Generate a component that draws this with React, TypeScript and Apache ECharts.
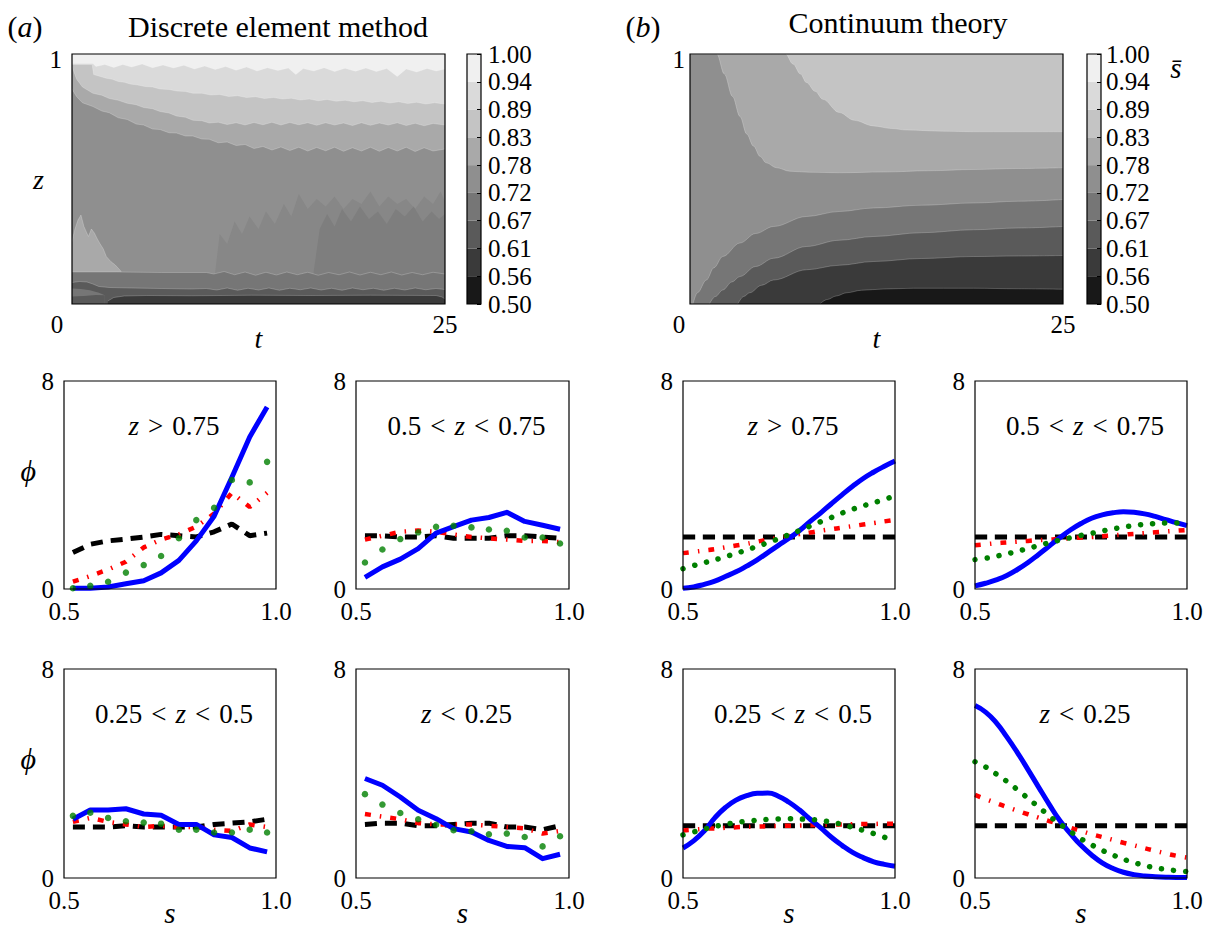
import React, { useEffect, useRef } from "react";
import * as echarts from "echarts";

const SERIF = '"Liberation Serif", "DejaVu Serif", serif';

// ---------- colour bar ----------
const levelLabels = ["0.50", "0.56", "0.61", "0.67", "0.72", "0.78", "0.83", "0.89", "0.94", "1.00"];
const bandColors = ["#181818", "#3a3a3a", "#5a5a5a", "#767676", "#8f8f8f", "#a9a9a9", "#c4c4c4", "#dadada", "#f0f0f0"];

// ---------- (a) DEM contour boundaries  [t, z] ----------
const demCeiling = [[0, 1], [25, 1]];
const dem094 = [[0, 0.962], [1.4, 0.962], [1.6, 0.95], [2.2, 0.958], [2.8, 0.946], [3.4, 0.958], [4.0, 0.948], [4.7, 0.96], [5.4, 0.945], [6.1, 0.956], [6.8, 0.944], [7.5, 0.955], [8.2, 0.94], [8.9, 0.952], [9.6, 0.938], [10.3, 0.95], [11.0, 0.935], [11.7, 0.948], [12.4, 0.932], [13.1, 0.945], [13.8, 0.934], [14.5, 0.944], [15.0, 0.918], [15.5, 0.942], [16.2, 0.932], [16.9, 0.945], [17.6, 0.93], [18.3, 0.943], [19.0, 0.931], [19.7, 0.944], [20.4, 0.93], [21.1, 0.942], [21.8, 0.91], [22.4, 0.94], [23.1, 0.928], [23.8, 0.942], [24.4, 0.932], [25, 0.94]];
const dem089 = [[0, 0.958], [1.35, 0.958], [1.45, 0.918], [1.9, 0.91], [2.3, 0.903], [2.7, 0.899], [3.1, 0.89], [3.5, 0.887], [3.9, 0.88], [4.4, 0.876], [4.9, 0.87], [5.4, 0.868], [5.9, 0.86], [6.5, 0.858], [7.0, 0.852], [7.6, 0.85], [8.1, 0.843], [8.7, 0.843], [9.3, 0.836], [9.9, 0.838], [10.5, 0.83], [11.1, 0.833], [11.7, 0.826], [12.3, 0.829], [12.9, 0.822], [13.5, 0.826], [14.1, 0.82], [14.7, 0.823], [15.3, 0.816], [15.9, 0.82], [16.5, 0.813], [17.1, 0.818], [17.7, 0.811], [18.3, 0.815], [18.9, 0.809], [19.5, 0.813], [20.1, 0.806], [20.7, 0.811], [21.3, 0.804], [21.9, 0.809], [22.5, 0.802], [23.1, 0.807], [23.7, 0.8], [24.3, 0.805], [25, 0.8]];
const dem083 = [[0, 0.95], [0.3, 0.9], [0.7, 0.868], [1.4, 0.843], [2.0, 0.835], [2.5, 0.822], [3.1, 0.815], [3.7, 0.803], [4.3, 0.797], [4.8, 0.786], [5.4, 0.781], [5.9, 0.77], [6.5, 0.764], [7.0, 0.752], [7.6, 0.747], [8.1, 0.735], [8.7, 0.733], [9.2, 0.724], [9.8, 0.727], [10.4, 0.718], [11.0, 0.725], [11.6, 0.716], [12.2, 0.726], [12.8, 0.717], [13.4, 0.727], [14.0, 0.716], [14.6, 0.726], [15.2, 0.717], [15.8, 0.725], [16.4, 0.715], [17.0, 0.725], [17.6, 0.716], [18.2, 0.724], [18.8, 0.714], [19.4, 0.725], [20.0, 0.715], [20.6, 0.724], [21.2, 0.716], [21.8, 0.725], [22.4, 0.714], [23.0, 0.723], [23.6, 0.713], [24.2, 0.722], [25, 0.716]];
const dem078 = [[0, 0.86], [0.3, 0.83], [0.7, 0.805], [1.4, 0.79], [2.0, 0.772], [2.5, 0.765], [3.1, 0.745], [3.7, 0.738], [4.3, 0.72], [4.8, 0.716], [5.4, 0.7], [5.9, 0.698], [6.5, 0.685], [7.0, 0.684], [7.6, 0.672], [8.1, 0.672], [8.7, 0.66], [9.2, 0.659], [9.8, 0.645], [10.4, 0.648], [11.0, 0.634], [11.6, 0.638], [12.2, 0.622], [12.8, 0.63], [13.4, 0.616], [14.0, 0.628], [14.6, 0.614], [15.2, 0.627], [15.8, 0.612], [16.4, 0.626], [17.0, 0.613], [17.6, 0.627], [18.2, 0.611], [18.8, 0.625], [19.4, 0.612], [20.0, 0.627], [20.6, 0.611], [21.2, 0.626], [21.8, 0.612], [22.4, 0.627], [23.0, 0.61], [23.6, 0.625], [24.2, 0.612], [25, 0.62]];
const demLightPatch = [[0, 0.25], [0.2, 0.3], [0.4, 0.336], [0.6, 0.356], [0.8, 0.31], [1.1, 0.27], [1.3, 0.3], [1.5, 0.284], [1.7, 0.26], [1.85, 0.244], [2.1, 0.22], [2.3, 0.19], [2.6, 0.17], [2.9, 0.156], [3.3, 0.13]];
const demMottle = [[9.6, 0.13], [9.9, 0.28], [10.4, 0.24], [10.9, 0.33], [11.4, 0.28], [11.9, 0.35], [12.5, 0.3], [13.0, 0.37], [13.6, 0.32], [14.2, 0.4], [14.7, 0.35], [15.2, 0.44], [15.8, 0.38], [16.4, 0.42], [17.0, 0.39], [17.6, 0.43], [18.2, 0.38], [18.8, 0.42], [19.4, 0.4], [20.0, 0.45], [20.6, 0.39], [21.2, 0.43], [21.8, 0.4], [22.4, 0.42], [23.0, 0.38], [23.6, 0.43], [24.2, 0.4], [24.7, 0.45], [25, 0.41]];
const demMottleCore = [[16.2, 0.13], [16.6, 0.3], [17.1, 0.36], [17.6, 0.31], [18.1, 0.38], [18.7, 0.33], [19.3, 0.39], [19.9, 0.34], [20.5, 0.37], [21.1, 0.32], [21.7, 0.38], [22.3, 0.35], [22.9, 0.39], [23.5, 0.33], [24.1, 0.37], [24.6, 0.34], [25, 0.36]];
const dem072 = [[0, 0.128], [3, 0.128], [6, 0.126], [9, 0.126], [9.5, 0.12], [10.2, 0.13], [10.9, 0.117], [11.6, 0.128], [12.3, 0.115], [13, 0.127], [13.7, 0.116], [14.4, 0.128], [15.1, 0.117], [15.8, 0.127], [16.5, 0.115], [17.2, 0.126], [17.9, 0.117], [18.6, 0.128], [19.3, 0.116], [20, 0.127], [20.7, 0.117], [21.4, 0.128], [22.1, 0.116], [22.8, 0.126], [23.5, 0.117], [24.2, 0.127], [25, 0.12]];
const dem067 = [[0, 0.086], [0.5, 0.09], [1.0, 0.088], [1.4, 0.08], [1.8, 0.07], [2.5, 0.066], [4, 0.064], [6, 0.062], [8, 0.06], [9, 0.062], [9.7, 0.056], [10.4, 0.064], [11.1, 0.055], [11.8, 0.063], [12.5, 0.056], [13.2, 0.064], [13.9, 0.055], [14.6, 0.063], [15.3, 0.057], [16, 0.064], [16.7, 0.056], [17.4, 0.063], [18.1, 0.055], [18.8, 0.064], [19.5, 0.057], [20.2, 0.063], [20.9, 0.055], [21.6, 0.063], [22.3, 0.056], [23, 0.064], [23.7, 0.057], [24.4, 0.062], [25, 0.058]];
const demWedge = [[0, 0.062], [0.6, 0.06], [1.2, 0.055], [1.8, 0.045], [2.2, 0.035]];
const demCorner = [[0, 0.03], [0.8, 0.032], [1.6, 0.036], [2.2, 0.035]];
const dem061 = [[2.4, 0.012], [2.8, 0.026], [3.5, 0.032], [5, 0.034], [8, 0.033], [12, 0.035], [16, 0.034], [20, 0.035], [24.4, 0.034], [24.8, 0.028], [25, 0.02]];

// ---------- (b) continuum contour boundaries [t, z] ----------
const ctCeiling = [[0, 1], [25, 1]];
const ct083 = [[0, 1], [6.4, 1], [6.9, 0.96], [7.4, 0.92], [7.8, 0.886], [8.4, 0.85], [8.9, 0.819], [10, 0.766], [11, 0.735], [12.3, 0.712], [13.5, 0.702], [14.5, 0.696], [17, 0.691], [19, 0.689], [25, 0.689]];
const ct078 = [[0, 1], [1.8, 1], [2.3, 0.92], [2.85, 0.83], [3.35, 0.75], [3.8, 0.68], [4.25, 0.632], [4.7, 0.59], [5.1, 0.565], [5.8, 0.545], [6.7, 0.531], [8, 0.527], [10, 0.525], [13, 0.528], [16, 0.533], [19, 0.538], [22, 0.542], [25, 0.545]];
const ct072 = [[0.2, 0], [0.5, 0.045], [1.1, 0.096], [1.6, 0.145], [2.2, 0.19], [3.35, 0.244], [4.4, 0.282], [5.6, 0.31], [7.8, 0.35], [10, 0.37], [12.3, 0.384], [15.5, 0.395], [19, 0.404], [22, 0.411], [25, 0.418]];
const ct067 = [[1.3, 0], [1.7, 0.03], [2.2, 0.056], [2.8, 0.088], [3.35, 0.11], [4.4, 0.15], [5.6, 0.183], [7.8, 0.23], [10, 0.255], [12.3, 0.27], [15.5, 0.285], [19, 0.297], [22, 0.304], [25, 0.31]];
const ct061 = [[3.2, 0], [3.6, 0.03], [4.0, 0.045], [4.8, 0.075], [5.6, 0.096], [7.8, 0.137], [10, 0.155], [12.3, 0.17], [15.5, 0.182], [19, 0.19], [22, 0.192], [25, 0.194]];
const ct056 = [[8.7, 0], [9.2, 0.018], [9.8, 0.032], [10.5, 0.045], [11.5, 0.055], [13, 0.06], [15, 0.063], [19, 0.063], [22, 0.061], [25, 0.059]];

// ---------- phi(s) profiles ----------
const sDEM = [0.521, 0.562, 0.604, 0.646, 0.688, 0.729, 0.771, 0.812, 0.854, 0.896, 0.938, 0.979];
const sCT = [0.5, 0.525, 0.55, 0.575, 0.6, 0.625, 0.65, 0.675, 0.7, 0.725, 0.75, 0.775, 0.8, 0.825, 0.85, 0.875, 0.9, 0.925, 0.95, 0.975, 1.0];

const demHighBlue = [0.03, 0.03, 0.08, 0.2, 0.32, 0.62, 1.1, 1.85, 2.8, 4.3, 5.85, 7.0];
const demHighGreen = [0.03, 0.12, 0.28, 0.63, 0.92, 1.27, 1.95, 2.65, 3.12, 4.19, 4.1, 4.89];
const demHighRed = [0.28, 0.5, 0.75, 1.05, 1.6, 1.9, 2.1, 2.4, 2.9, 3.7, 3.15, 3.7];
const demHighBlack = [1.4, 1.72, 1.85, 1.92, 2.0, 2.1, 2.05, 2.0, 2.2, 2.5, 2.05, 2.15];

const demMidBlue = [0.45, 0.85, 1.15, 1.55, 2.15, 2.4, 2.65, 2.75, 2.95, 2.6, 2.45, 2.3];
const demMidGreen = [1.02, 1.52, 1.92, 2.18, 2.39, 2.43, 2.37, 2.29, 2.24, 1.98, 1.98, 1.75];
const demMidRed = [1.9, 2.05, 2.2, 2.25, 2.2, 2.1, 2.0, 1.95, 1.9, 1.85, 1.85, 1.8];
const demMidBlack = [2.05, 2.05, 2.0, 2.0, 2.05, 1.95, 1.95, 1.95, 2.05, 2.05, 2.0, 1.95];

const demLowBlue = [2.25, 2.6, 2.6, 2.65, 2.45, 2.4, 2.05, 2.05, 1.65, 1.55, 1.15, 1.0];
const demLowGreen = [2.38, 2.5, 2.3, 2.17, 2.12, 2.08, 1.85, 1.85, 1.74, 1.74, 1.85, 1.74];
const demLowRed = [2.15, 2.3, 2.15, 2.05, 1.95, 2.0, 1.95, 1.95, 1.85, 1.8, 2.05, 1.95];
const demLowBlack = [1.95, 1.95, 1.95, 2.0, 1.95, 1.95, 1.95, 1.95, 2.05, 2.1, 2.15, 2.25];

const demBottomBlue = [3.81, 3.55, 3.1, 2.59, 2.27, 1.89, 1.76, 1.44, 1.21, 1.16, 0.74, 0.91];
const demBottomGreen = [3.21, 2.81, 2.49, 2.25, 2.04, 1.83, 1.79, 1.67, 1.7, 1.57, 1.21, 1.6];
const demBottomRed = [2.45, 2.35, 2.25, 2.1, 2.05, 2.05, 2.05, 2.0, 1.95, 1.9, 1.7, 1.8];
const demBottomBlack = [2.05, 2.1, 2.1, 2.0, 2.0, 2.05, 2.1, 2.1, 1.95, 1.95, 1.85, 2.0];

const ctBlack = [2, 2, 2, 2, 2, 2, 2, 2, 2, 2, 2, 2, 2, 2, 2, 2, 2, 2, 2, 2, 2];
const ctHighBlue = [0.03, 0.08, 0.18, 0.3, 0.48, 0.66, 0.88, 1.12, 1.4, 1.68, 1.95, 2.25, 2.6, 2.93, 3.28, 3.62, 3.95, 4.25, 4.5, 4.72, 4.92];
const ctHighGreen = [0.78, 0.9, 1.01, 1.12, 1.24, 1.37, 1.5, 1.64, 1.78, 1.93, 2.09, 2.25, 2.42, 2.59, 2.75, 2.92, 3.07, 3.2, 3.32, 3.45, 3.58];
const ctHighRed = [1.38, 1.43, 1.48, 1.53, 1.6, 1.67, 1.74, 1.82, 1.9, 1.97, 2.04, 2.11, 2.17, 2.24, 2.3, 2.36, 2.42, 2.48, 2.54, 2.6, 2.66];
const ctMidBlue = [0.12, 0.22, 0.35, 0.52, 0.75, 1.02, 1.33, 1.65, 1.97, 2.27, 2.52, 2.72, 2.85, 2.93, 2.97, 2.95, 2.89, 2.79, 2.67, 2.55, 2.44];
const ctMidGreen = [1.13, 1.18, 1.26, 1.35, 1.45, 1.56, 1.67, 1.78, 1.88, 1.97, 2.06, 2.14, 2.23, 2.31, 2.38, 2.44, 2.49, 2.52, 2.54, 2.54, 2.5];
const ctMidRed = [1.68, 1.72, 1.76, 1.79, 1.82, 1.85, 1.88, 1.9, 1.93, 1.95, 1.98, 2.0, 2.03, 2.06, 2.09, 2.12, 2.15, 2.18, 2.21, 2.24, 2.27];
const ctLowBlue = [1.15, 1.42, 1.8, 2.3, 2.7, 2.98, 3.15, 3.24, 3.25, 3.13, 2.9, 2.6, 2.25, 1.92, 1.56, 1.25, 0.98, 0.78, 0.62, 0.52, 0.45];
const ctLowGreen = [1.65, 1.76, 1.87, 1.97, 2.05, 2.12, 2.17, 2.21, 2.24, 2.26, 2.27, 2.26, 2.24, 2.2, 2.14, 2.05, 1.94, 1.82, 1.7, 1.56, 1.42];
const ctLowRed = [1.82, 1.85, 1.88, 1.9, 1.92, 1.94, 1.96, 1.97, 1.98, 1.99, 2.0, 2.01, 2.02, 2.03, 2.04, 2.05, 2.06, 2.07, 2.07, 2.08, 2.08];
const ctBottomBlue = [6.6, 6.35, 5.95, 5.4, 4.8, 4.15, 3.48, 2.82, 2.2, 1.7, 1.25, 0.88, 0.58, 0.37, 0.22, 0.13, 0.08, 0.05, 0.03, 0.02, 0.02];
const ctBottomGreen = [4.45, 4.25, 3.98, 3.7, 3.38, 3.05, 2.72, 2.38, 2.07, 1.78, 1.5, 1.27, 1.06, 0.88, 0.72, 0.59, 0.48, 0.39, 0.33, 0.28, 0.25];
const ctBottomRed = [3.18, 3.02, 2.87, 2.72, 2.58, 2.44, 2.31, 2.18, 2.05, 1.92, 1.8, 1.68, 1.57, 1.46, 1.35, 1.25, 1.14, 1.04, 0.94, 0.85, 0.78];

const panelLabels = ["z > 0.75", "0.5 < z < 0.75", "z > 0.75", "0.5 < z < 0.75", "0.25 < z < 0.5", "z < 0.25", "0.25 < z < 0.5", "z < 0.25"];
const tTicks = ["0", "25"];

// ---------- layout ----------
const HM = [
  { left: 72, top: 54, width: 373, height: 250 },
  { left: 690, top: 54, width: 373, height: 250 },
];
const CB = [
  { left: 467, top: 54, width: 14, height: 250 },
  { left: 1087, top: 54, width: 14, height: 250 },
];
const SP = [
  { left: 64, top: 381, width: 212, height: 208 },
  { left: 356, top: 381, width: 213, height: 208 },
  { left: 683, top: 381, width: 212, height: 208 },
  { left: 975, top: 381, width: 212, height: 208 },
  { left: 64, top: 669, width: 212, height: 209 },
  { left: 356, top: 669, width: 213, height: 209 },
  { left: 683, top: 669, width: 212, height: 209 },
  { left: 975, top: 669, width: 212, height: 209 },
];

function gridOf(r: any) {
  return {
    ...r,
    show: true,
    backgroundColor: "transparent",
    borderColor: "#000",
    borderWidth: 1.2,
    z: 10,
    containLabel: false,
    outerBoundsMode: "none",
  };
}

const noLine = { show: false };

function bandSeries(gi: number, data: number[][], color: string, smooth: number | boolean, edge = true) {
  return {
    type: "line",
    xAxisIndex: gi,
    yAxisIndex: gi,
    data,
    showSymbol: false,
    silent: true,
    smooth,
    smoothMonotone: "x",
    lineStyle: edge ? { width: 1, color: "rgba(255,255,255,0.22)" } : { width: 0, opacity: 0 },
    areaStyle: { color, opacity: 1 },
    z: 1,
  };
}

function profileSeries(gi: number, s: number[], blue: number[], green: number[], red: number[], black: number[], smooth: boolean) {
  const pts = (arr: number[]) => s.map((v, i) => [v, arr[i]]);
  const base = { xAxisIndex: gi, yAxisIndex: gi, silent: true, showSymbol: false, smooth };
  const out: any[] = [
    { ...base, type: "line", data: pts(black), lineStyle: { color: "#000", width: 5, type: [12, 8] }, z: 3 },
    { ...base, type: "line", data: pts(red), lineStyle: { color: "#ff0000", width: 4.5, type: [6, 9, 1.5, 9] }, z: 4 },
    { ...base, type: "line", data: pts(blue), lineStyle: { color: "#0000ff", width: 5, join: "round" }, z: 5 },
  ];
  if (smooth) {
    out.push({ ...base, type: "line", data: pts(green), lineStyle: { color: "#008000", width: 5.5, type: [0.1, 12], cap: "round" }, z: 6 });
  } else {
    out.push({ type: "scatter", xAxisIndex: gi, yAxisIndex: gi, silent: true, data: pts(green), symbol: "circle", symbolSize: 6.5, itemStyle: { color: "#008000" }, z: 6 });
  }
  return out;
}

function buildOption() {
  const grids: any[] = [];
  const xAxes: any[] = [];
  const yAxes: any[] = [];
  const series: any[] = [];

  const labelBase = { fontFamily: SERIF, color: "#000" };

  [0, 1].forEach((k) => {
    const hmIdx = grids.length;
    grids.push(gridOf(HM[k]));
    const shift = k === 0 ? 30 : 22;
    xAxes.push({
      gridIndex: hmIdx, type: "value", min: 0, max: 25, interval: 25,
      axisLine: noLine, axisTick: noLine, splitLine: noLine,
      axisLabel: {
        ...labelBase, fontSize: 25, margin: 8, showMinLabel: true, showMaxLabel: true,
        formatter: (v: number) => (v === 0 ? "{o|" + tTicks[0] + "}" : tTicks[1]),
        rich: { o: { ...labelBase, fontSize: 25, padding: [0, shift, 0, 0] } },
      },
      name: "t", nameLocation: "middle", nameGap: 20, nameMoveOverlap: false,
      nameTextStyle: { ...labelBase, fontSize: 28, fontStyle: "italic" },
    });
    yAxes.push({
      gridIndex: hmIdx, type: "value", min: 0, max: 1, interval: 1,
      axisLine: noLine, axisTick: noLine, splitLine: noLine,
      axisLabel: {
        ...labelBase, fontSize: 25, margin: k === 0 ? 10 : 5,
        formatter: (v: number) => (v === 1 ? "{o|1}" : ""),
        rich: { o: { ...labelBase, fontSize: 25, padding: [10, 0, 0, 0] } },
      },
      name: k === 0 ? "z" : "", nameLocation: "middle", nameRotate: 0, nameGap: 28, nameMoveOverlap: false,
      nameTextStyle: { ...labelBase, fontSize: 28, fontStyle: "italic" },
    });

    if (k === 0) {
      series.push(bandSeries(hmIdx, demCeiling, bandColors[8], false));
      series.push(bandSeries(hmIdx, dem094, bandColors[7], false));
      series.push(bandSeries(hmIdx, dem089, bandColors[6], false));
      series.push(bandSeries(hmIdx, dem083, bandColors[5], false));
      series.push(bandSeries(hmIdx, dem078, bandColors[4], false));
      series.push(bandSeries(hmIdx, demLightPatch, bandColors[5], false));
      series.push(bandSeries(hmIdx, demMottle, "#878787", false, false));
      series.push(bandSeries(hmIdx, demMottleCore, "#7e7e7e", false, false));
      series.push(bandSeries(hmIdx, dem072, bandColors[3], false));
      series.push(bandSeries(hmIdx, dem067, bandColors[2], false));
      series.push(bandSeries(hmIdx, demWedge, bandColors[3], false, false));
      series.push(bandSeries(hmIdx, demCorner, bandColors[2], false, false));
      series.push(bandSeries(hmIdx, dem061, bandColors[1], false));
    } else {
      series.push(bandSeries(hmIdx, ctCeiling, bandColors[6], false));
      series.push(bandSeries(hmIdx, ct083, bandColors[5], 0.35));
      series.push(bandSeries(hmIdx, ct078, bandColors[4], 0.35));
      series.push(bandSeries(hmIdx, ct072, bandColors[3], 0.35));
      series.push(bandSeries(hmIdx, ct067, bandColors[2], 0.35));
      series.push(bandSeries(hmIdx, ct061, bandColors[1], 0.35));
      series.push(bandSeries(hmIdx, ct056, bandColors[0], 0.35));
    }

    const cbIdx = grids.length;
    grids.push(gridOf(CB[k]));
    xAxes.push({ gridIndex: cbIdx, type: "category", data: [""], show: false, boundaryGap: true });
    yAxes.push({
      gridIndex: cbIdx, type: "value", min: 0, max: 9, interval: 1, position: "right", z: 11,
      axisLine: noLine, splitLine: noLine,
      axisTick: { show: true, inside: true, length: 4, lineStyle: { color: "#000", width: 1 } },
      axisLabel: { ...labelBase, fontSize: 25, margin: k === 0 ? 7 : 5, formatter: (v: number) => levelLabels[Math.round(v)] },
    });
    bandColors.forEach((c) => {
      series.push({
        type: "bar", xAxisIndex: cbIdx, yAxisIndex: cbIdx, stack: "cb" + k, data: [1],
        barWidth: "100%", silent: true, itemStyle: { color: c }, z: 2,
      });
    });
  });

  const profiles = [
    [sDEM, demHighBlue, demHighGreen, demHighRed, demHighBlack, false],
    [sDEM, demMidBlue, demMidGreen, demMidRed, demMidBlack, false],
    [sCT, ctHighBlue, ctHighGreen, ctHighRed, ctBlack, true],
    [sCT, ctMidBlue, ctMidGreen, ctMidRed, ctBlack, true],
    [sDEM, demLowBlue, demLowGreen, demLowRed, demLowBlack, false],
    [sDEM, demBottomBlue, demBottomGreen, demBottomRed, demBottomBlack, false],
    [sCT, ctLowBlue, ctLowGreen, ctLowRed, ctBlack, true],
    [sCT, ctBottomBlue, ctBottomGreen, ctBottomRed, ctBlack, true],
  ];
  SP.forEach((r, p) => {
    const gi = grids.length;
    grids.push(gridOf(r));
    const row2 = p >= 4;
    xAxes.push({
      gridIndex: gi, type: "value", min: 0.5, max: 1, interval: 0.5,
      axisLine: noLine, axisTick: noLine, splitLine: noLine,
      axisLabel: { ...labelBase, fontSize: 25, margin: 10, showMinLabel: true, showMaxLabel: true, formatter: (v: number) => v.toFixed(1) },
      name: row2 ? "s" : "", nameLocation: "middle", nameGap: 20, nameMoveOverlap: false,
      nameTextStyle: { ...labelBase, fontSize: 29, fontStyle: "italic" },
    });
    yAxes.push({
      gridIndex: gi, type: "value", min: 0, max: 8, interval: 8,
      axisLine: noLine, axisTick: noLine, splitLine: noLine,
      axisLabel: { ...labelBase, fontSize: 25, margin: 10 },
      name: p % 4 === 0 ? "\u03d5" : "", nameLocation: "middle", nameRotate: 0, nameGap: 28, nameMoveOverlap: false,
      nameTextStyle: { ...labelBase, fontSize: 30, fontStyle: "italic", verticalAlign: "bottom" },
    });
    const pr: any = profiles[p];
    series.push(...profileSeries(gi, pr[0], pr[1], pr[2], pr[3], pr[4], pr[5]));
  });

  const txt = (x: number, y: number, text: string, size: number, extra: any = {}) => ({
    type: "text", x, y, silent: true, z: 100,
    style: {
      text, fontSize: size, fontFamily: SERIF, fill: "#000", align: "center", verticalAlign: "middle",
      rich: { i: { fontStyle: "italic", fontSize: size, fontFamily: SERIF, fill: "#000" } },
      ...extra,
    },
  });
  const sp = "\u2004";
  const fmt = (s: string) => s.replace(/ /g, sp).replace("z", "{i|z}");

  const graphic: any[] = [
    txt(25, 26, "({i|a})", 30),
    txt(278, 26, "Discrete element method", 30),
    txt(643, 26, "({i|b})", 30),
    txt(898, 22, "Continuum theory", 30),
    txt(1176, 68, "s\u0304", 29, { fontStyle: "italic" }),
  ];
  SP.forEach((r, p) => {
    const cx = r.left + r.width / 2 + 4;
    const cy = r.top + 45;
    graphic.push(txt(cx, cy, fmt(panelLabels[p]), 27));
  });

  return {
    animation: false,
    backgroundColor: "#ffffff",
    grid: grids,
    xAxis: xAxes,
    yAxis: yAxes,
    series,
    graphic,
  };
}

export default function App() {
  const ref = useRef<HTMLDivElement>(null);
  useEffect(() => {
    const chart = echarts.init(ref.current!, null, { renderer: "svg", width: 1207, height: 934 });
    chart.setOption(buildOption() as any);
    return () => chart.dispose();
  }, []);
  return (
    <div
      ref={ref}
      style={{ position: "fixed", left: 0, top: 0, width: 1207, height: 934, background: "#fff" }}
    />
  );
}
